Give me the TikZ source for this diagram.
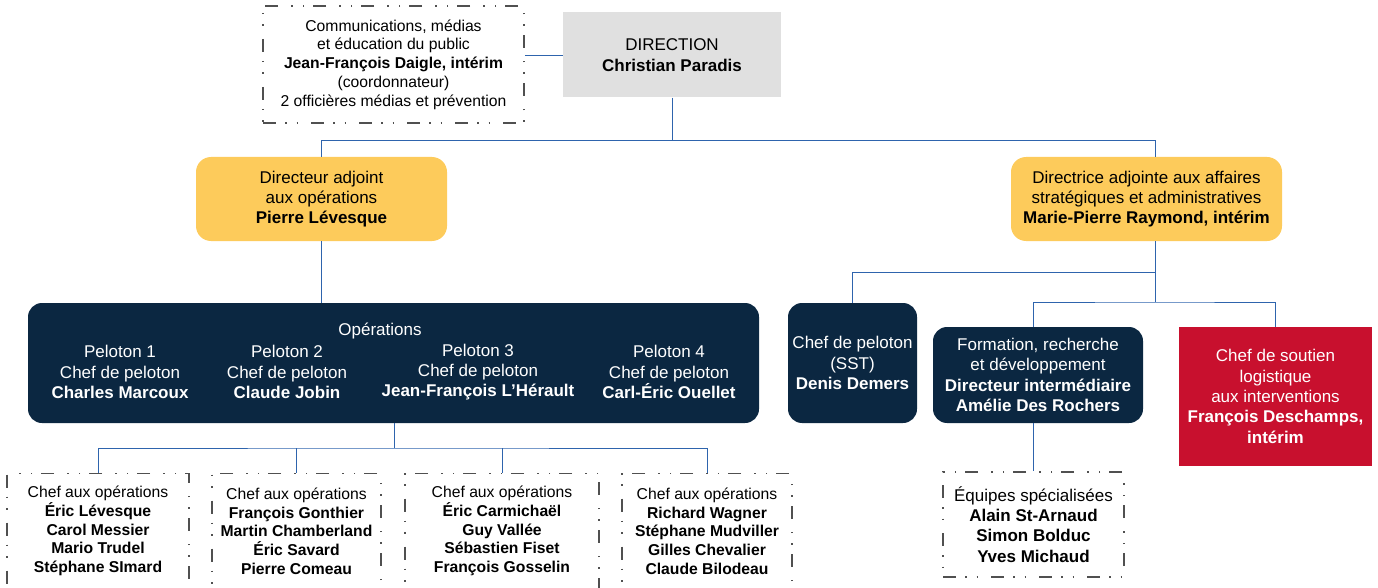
\documentclass[tikz,border=0pt]{standalone}
\usepackage{fontspec}
\setmainfont{Liberation Sans}
\usetikzlibrary{positioning}
\definecolor{navy}{HTML}{0B2741}
\definecolor{gold}{HTML}{FDCB5B}
\definecolor{crimson}{HTML}{C8102E}
\definecolor{dirgray}{HTML}{E0E0E0}
\definecolor{linkblue}{HTML}{2E64AD}
\definecolor{dashgray}{HTML}{505050}

\begin{document}
\begin{tikzpicture}[x=1pt,y=-1pt,
		bigtext/.style={align=center,inner sep=0pt,font=\fontsize{17}{20.3}\selectfont},
		smalltext/.style={align=center,inner sep=0pt,font=\fontsize{15.7}{18.7}\selectfont},
		dashbox/.style={draw=dashgray,line width=1.6pt,dash pattern=on 13pt off 9pt on 1.5pt off 10pt on 1.5pt off 13pt},
		navybox/.style={bigtext,fill=navy,text=white,rounded corners=14pt},
		goldbox/.style={bigtext,fill=gold,rounded corners=15pt},
		link/.style={draw=linkblue,line width=0.9pt}]
				\useasboundingbox (0,0) rectangle (1378,588);
				% top level
				\node[smalltext,dashbox,minimum width=261pt,minimum height=117pt] (COMMS) at (393.5,64.5) {Communications, médias\\et éducation du public\\\textbf{Jean-François Daigle, intérim}\\(coordonnateur)\\2 officières médias et prévention};
				\node[bigtext,fill=dirgray,minimum width=218pt,minimum height=85pt] (DIRECTION) at (672,55) {DIRECTION\\\textbf{Christian Paradis}};
				\node[goldbox,minimum width=251pt,minimum height=84pt] (ADJ_OPS) at (321.5,199) {Directeur adjoint\\aux opérations\\\textbf{Pierre Lévesque}};
				\node[goldbox,minimum width=271pt,minimum height=84pt] (ADJ_ADMIN) at (1146.5,199) {Directrice adjointe aux affaires\\stratégiques et administratives\\\textbf{Marie-Pierre Raymond, intérim}};
				% operations
				\node[navybox,minimum width=731pt,minimum height=120pt] (OPERATIONS) at (393.5,363) {};
				\node[bigtext,text=white] (OPS_TITLE) at (380,331) {Opérations};
				\node[bigtext,text=white] (PELOTON_1) at (120,372) {Peloton 1\\Chef de peloton\\\textbf{Charles Marcoux}};
				\node[bigtext,text=white] (PELOTON_2) at (287,372) {Peloton 2\\Chef de peloton\\\textbf{Claude Jobin}};
				\node[bigtext,text=white] (PELOTON_3) at (478,372) {Peloton 3\\Chef de peloton\\\textbf{Jean-François L’Hérault}};
				\node[bigtext,text=white] (PELOTON_4) at (669,372) {Peloton 4\\Chef de peloton\\\textbf{Carl-Éric Ouellet}};
				\node[smalltext,dashbox,minimum width=182pt,minimum height=115pt] (CHEF_OPS_1) at (98,531) {Chef aux opérations\\\textbf{Éric Lévesque}\\\textbf{Carol Messier}\\\textbf{Mario Trudel}\\\textbf{Stéphane SImard}};
				\node[smalltext,dashbox,minimum width=169pt,minimum height=115pt] (CHEF_OPS_2) at (296.5,531) {Chef aux opérations\\\textbf{François Gonthier}\\\textbf{Martin Chamberland}\\\textbf{Éric Savard}\\\textbf{Pierre Comeau}};
				\node[smalltext,dashbox,minimum width=194pt,minimum height=115pt] (CHEF_OPS_3) at (502,531) {Chef aux opérations\\\textbf{Éric Carmichaël}\\\textbf{Guy Vallée}\\\textbf{Sébastien Fiset}\\\textbf{François Gosselin}};
				\node[smalltext,dashbox,minimum width=170pt,minimum height=115pt] (CHEF_OPS_4) at (707,531) {Chef aux opérations\\\textbf{Richard Wagner}\\\textbf{Stéphane Mudviller}\\\textbf{Gilles Chevalier}\\\textbf{Claude Bilodeau}};
				% affaires strategiques
				\node[navybox,minimum width=129pt,minimum height=120pt] (SST) at (852.5,363) {Chef de peloton\\(SST)\\\textbf{Denis Demers}};
				\node[navybox,minimum width=210pt,minimum height=96pt] (FORMATION) at (1038,375) {Formation, recherche\\et développement\\\textbf{Directeur intermédiaire}\\\textbf{Amélie Des Rochers}};
				\node[bigtext,fill=crimson,text=white,minimum width=193pt,minimum height=139pt] (LOGISTIQUE) at (1275.5,396.5) {Chef de soutien\\logistique\\aux interventions\\\textbf{François Deschamps,}\\\textbf{intérim}};
				\node[bigtext,dashbox,minimum width=181pt,minimum height=105pt] (EQUIPES) at (1033.5,524.5) {Équipes spécialisées\\\textbf{Alain St-Arnaud}\\\textbf{Simon Bolduc}\\\textbf{Yves Michaud}};
				% links
				\coordinate (TOP_BUS) at (672,140);
				\coordinate (ADMIN_DROP) at (1155,140);
				\coordinate (OPS_BUS) at (394,448);
				\coordinate (ADMIN_BUS_1) at (1155,272);
				\coordinate (ADMIN_BUS_2) at (1155,302);
				\draw[link] (COMMS.east |- DIRECTION) -- (DIRECTION.west);
				\draw[link] (DIRECTION.south) -- (TOP_BUS);
				\draw[link] (ADJ_OPS.north) |- (ADMIN_DROP) -- (ADMIN_DROP |- ADJ_ADMIN.north);
				\draw[link] (ADJ_OPS.south) -- (ADJ_OPS.south |- OPERATIONS.north);
				\draw[link] (OPS_BUS |- OPERATIONS.south) -- (OPS_BUS);
				\draw[link] (CHEF_OPS_1.north) |- (OPS_BUS) -| (CHEF_OPS_4.north);
				\draw[link] (CHEF_OPS_2.north) -- (CHEF_OPS_2.north |- OPS_BUS);
				\draw[link] (CHEF_OPS_3.north) -- (CHEF_OPS_3.north |- OPS_BUS);
				\draw[link] (ADMIN_BUS_2 |- ADJ_ADMIN.south) -- (ADMIN_BUS_2);
				\draw[link] (SST.north) |- (ADMIN_BUS_1);
				\draw[link] (EQUIPES.north |- FORMATION.north) |- (ADMIN_BUS_2) -| (LOGISTIQUE.north);
				\draw[link] (EQUIPES.north |- FORMATION.south) -- (EQUIPES.north);
\end{tikzpicture}
\end{document}
